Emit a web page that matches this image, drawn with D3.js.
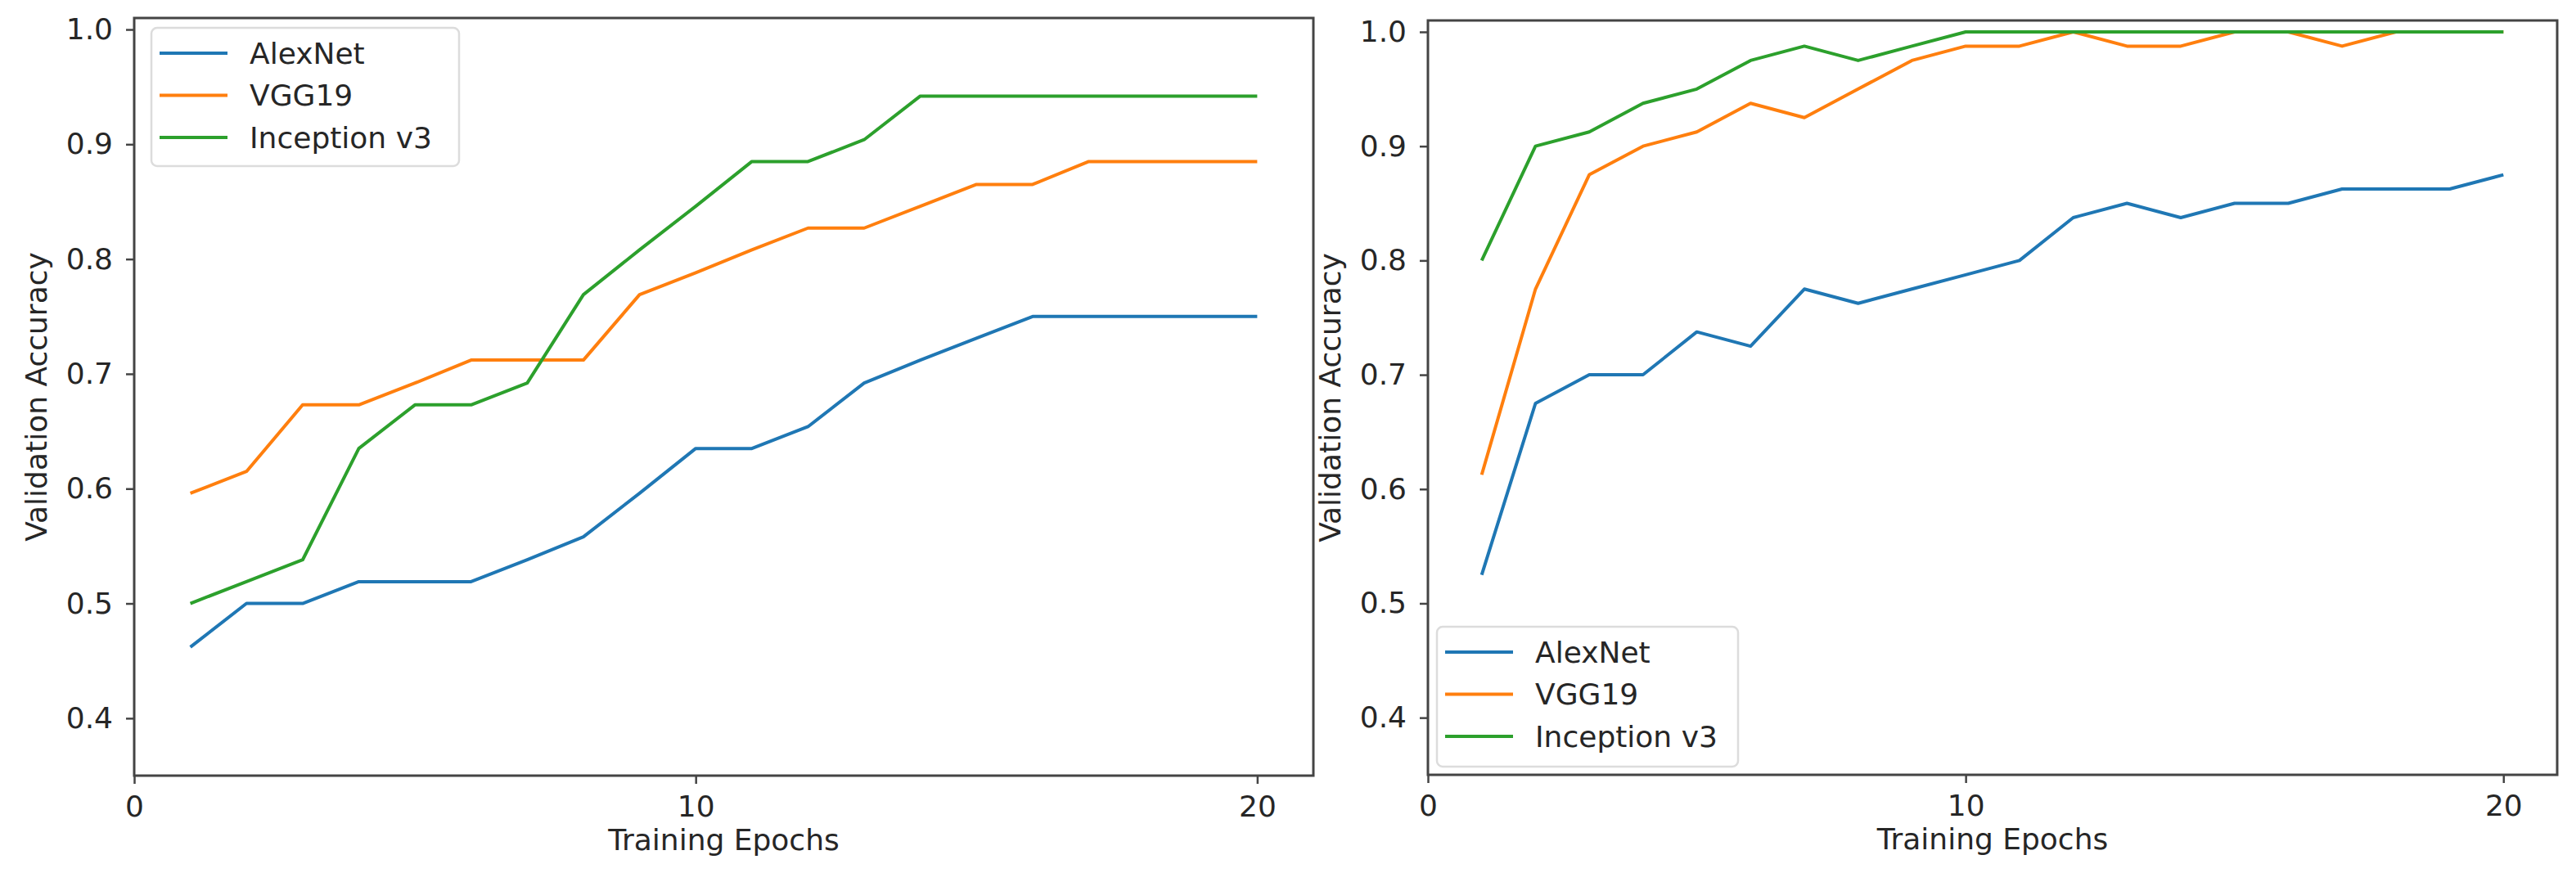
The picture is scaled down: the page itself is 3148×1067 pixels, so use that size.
<!DOCTYPE html>
<html>
<head>
<meta charset="utf-8">
<script src="https://cdn.jsdelivr.net/npm/d3@7"></script>
<style>
  body { margin: 0; background: #fff; }
  text { font-family: "DejaVu Sans", sans-serif; fill: #262626; }
</style>
</head>
<body>
<svg id="chart"></svg>
<script>
var width = 3148
var height = 1067

// epochs on the x axis
var epochs = [1,2,3,4,5,6,7,8,9,10,11,12,13,14,15,16,17,18,19,20]
var xTicks = [0, 10, 20]
var yTicks = [0.4, 0.5, 0.6, 0.7, 0.8, 0.9, 1.0]

var modelNames = ["AlexNet", "VGG19", "Inception v3"]
var modelColors = ["#1f77b4", "#ff7f0e", "#2ca02c"]

// left chart
var leftAlexNet   = [0.462,0.500,0.500,0.519,0.519,0.519,0.538,0.558,0.596,0.635,0.635,0.654,0.692,0.712,0.731,0.750,0.750,0.750,0.750,0.750]
var leftVGG19     = [0.596,0.615,0.673,0.673,0.692,0.712,0.712,0.712,0.769,0.788,0.808,0.827,0.827,0.846,0.865,0.865,0.885,0.885,0.885,0.885]
var leftInception = [0.500,0.519,0.538,0.635,0.673,0.673,0.692,0.769,0.808,0.846,0.885,0.885,0.904,0.942,0.942,0.942,0.942,0.942,0.942,0.942]

// right chart
var rightAlexNet   = [0.525,0.675,0.700,0.700,0.7375,0.725,0.775,0.7625,0.775,0.7875,0.800,0.8375,0.850,0.8375,0.850,0.850,0.8625,0.8625,0.8625,0.875]
var rightVGG19     = [0.6125,0.775,0.875,0.900,0.9125,0.9375,0.925,0.950,0.975,0.9875,0.9875,1.000,0.9875,0.9875,1.000,1.000,0.9875,1.000,1.000,1.000]
var rightInception = [0.800,0.900,0.9125,0.9375,0.950,0.975,0.9875,0.975,0.9875,1.000,1.000,1.000,1.000,1.000,1.000,1.000,1.000,1.000,1.000,1.000]

// where each panel sits (pixels)
var panels = [
  {left: 164, right: 1605, top: 22, bottom: 948,
   series: [leftAlexNet, leftVGG19, leftInception],
   legend: {x: 185, y: 34, w: 376, h: 169}},
  {left: 1745, right: 3125, top: 25, bottom: 947,
   series: [rightAlexNet, rightVGG19, rightInception],
   legend: {x: 1756, y: 766, w: 368, h: 171}}
]

var svg = d3.select("#chart")
  .attr("width", width)
  .attr("height", height)

svg.append("rect").attr("width", width).attr("height", height).attr("fill", "#fff")

panels.forEach(function(p){
  var x = d3.scaleLinear().domain([0, 21]).range([p.left, p.right])
  var y = d3.scaleLinear().domain([0.35, 1.01]).range([p.bottom, p.top])

  var g = svg.append("g")

  // lines
  var line = d3.line()
    .x(function(d, i){ return x(epochs[i]) })
    .y(function(d){ return y(d) })

  p.series.forEach(function(s, k){
    g.append("path")
      .datum(s)
      .attr("d", line)
      .attr("fill", "none")
      .attr("stroke", modelColors[k])
      .attr("stroke-width", 4)
      .attr("stroke-linejoin", "round")
  })

  // axes
  var xAxis = g.append("g")
    .attr("transform", "translate(0," + p.bottom + ")")
    .call(d3.axisBottom(x).tickValues(xTicks).tickSize(10).tickPadding(14).tickFormat(d3.format("d")))
  var yAxis = g.append("g")
    .attr("transform", "translate(" + p.left + ",0)")
    .call(d3.axisLeft(y).tickValues(yTicks).tickSize(10).tickPadding(16).tickFormat(d3.format(".1f")))

  ;[xAxis, yAxis].forEach(function(a){
    a.select(".domain").remove()
    a.selectAll(".tick line").attr("stroke", "#444").attr("stroke-width", 2.5)
    a.selectAll(".tick text").attr("font-size", 36).attr("fill", "#262626")
      .style("font-family", "'DejaVu Sans'")
  })

  // frame
  g.append("rect")
    .attr("x", p.left).attr("y", p.top)
    .attr("width", p.right - p.left).attr("height", p.bottom - p.top)
    .attr("fill", "none").attr("stroke", "#444").attr("stroke-width", 3)

  // axis titles
  g.append("text")
    .attr("x", (p.left + p.right) / 2)
    .attr("y", p.bottom + 91)
    .attr("text-anchor", "middle")
    .attr("font-size", 36)
    .text("Training Epochs")

  g.append("text")
    .attr("transform", "translate(" + (p.left - 107) + "," + ((p.top + p.bottom) / 2) + ") rotate(-90)")
    .attr("text-anchor", "middle")
    .attr("font-size", 36)
    .text("Validation Accuracy")

  // legend
  var lg = g.append("g").attr("transform", "translate(" + p.legend.x + "," + p.legend.y + ")")
  lg.append("rect")
    .attr("width", p.legend.w).attr("height", p.legend.h)
    .attr("rx", 7)
    .attr("fill", "#fff").attr("fill-opacity", 0.85)
    .attr("stroke", "#dcdcdc").attr("stroke-width", 2.5)

  modelNames.forEach(function(name, k){
    var ly = 31 + k * 51.5
    lg.append("line")
      .attr("x1", 10).attr("x2", 93)
      .attr("y1", ly).attr("y2", ly)
      .attr("stroke", modelColors[k]).attr("stroke-width", 4)
    lg.append("text")
      .attr("x", 120).attr("y", ly)
      .attr("dy", "0.36em")
      .attr("font-size", 36)
      .text(name)
  })
})
</script>
</body>
</html>
